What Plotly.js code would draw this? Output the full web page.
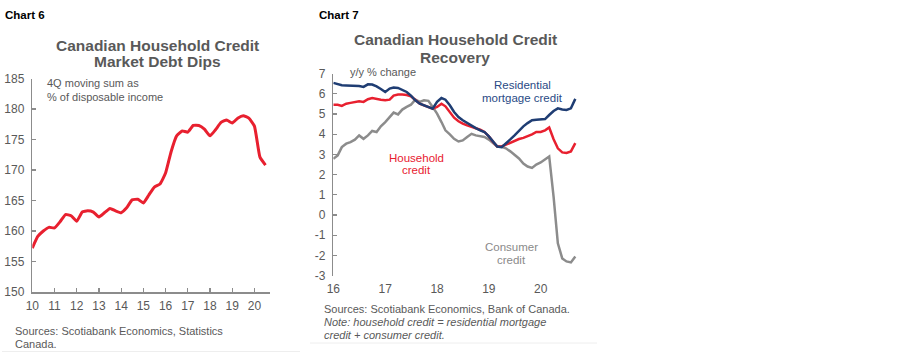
<!DOCTYPE html>
<html><head><meta charset="utf-8">
<script src="https://cdn.plot.ly/plotly-3.0.1.min.js"></script>
<style>html,body{margin:0;padding:0;background:#fff}#chart{width:900px;height:355px}</style>
</head><body><div id="chart"></div>
<script>
// ---- Chart 6: household credit market debt, 4Q moving sum as % of disposable income (quarterly, 2010Q1..2020Q3)
const c6StartYear = 2010;
const c6Values = [157.2,159.1,160.0,160.6,160.5,161.5,162.7,162.5,161.6,163.1,163.3,163.1,162.3,163.0,163.7,163.3,163.0,163.8,165.1,165.2,164.6,165.9,167.2,167.7,169.5,173.0,175.6,176.4,176.2,177.3,177.3,176.7,175.6,176.6,177.8,178.2,177.7,178.5,178.9,178.5,177.2,172.1,170.8];
const c6TickYears = [2010,2011,2012,2013,2014,2015,2016,2017,2018,2019,2020];
const c6TickLabels = ['10','11','12','13','14','15','16','17','18','19','20'];

// ---- Chart 7: y/y % change (monthly, Jan 2016..Sep 2020)
const c7StartYear = 2016;
const c7Mortgage = [6.54,6.47,6.42,6.41,6.41,6.42,6.39,6.34,6.47,6.46,6.37,6.24,
  6.09,6.26,6.31,6.29,6.18,6.09,5.91,5.68,5.51,5.43,5.35,5.26,
  5.60,5.79,5.71,5.43,5.10,4.85,4.69,4.55,4.44,4.30,4.19,4.11,
  3.89,3.61,3.39,3.36,3.53,3.74,3.94,4.16,4.39,4.55,4.69,4.72,
  4.72,4.75,4.95,5.15,5.28,5.22,5.20,5.28,5.75];
const c7Household = [5.46,5.46,5.40,5.51,5.55,5.58,5.63,5.60,5.73,5.79,5.74,5.71,
  5.68,5.71,5.91,5.96,5.96,5.94,5.88,5.71,5.51,5.43,5.35,5.26,
  5.35,5.51,5.38,5.10,4.82,4.64,4.52,4.44,4.37,4.30,4.22,4.11,
  3.89,3.61,3.39,3.39,3.49,3.58,3.69,3.76,3.82,3.89,3.99,4.11,
  4.11,4.19,4.33,3.75,3.30,3.10,3.07,3.15,3.56];
const c7Consumer = [2.78,2.95,3.36,3.53,3.61,3.73,3.94,3.77,3.94,4.16,4.11,4.39,
  4.60,4.85,5.07,4.98,5.22,5.35,5.46,5.71,5.60,5.68,5.65,5.35,
  5.02,4.60,4.19,3.99,3.77,3.64,3.69,3.86,4.02,3.94,3.89,3.86,
  3.73,3.56,3.39,3.38,3.30,3.15,3.00,2.80,2.55,2.40,2.33,2.50,
  2.60,2.75,2.90,0.90,-1.40,-2.15,-2.30,-2.35,-2.05];
const c7TickYears = [2016,2017,2018,2019,2020];
const c7TickLabels = ['16','17','18','19','20'];
const c7YTickVals = [-3,-2,-1,0,1,2,3,4,5,6,7];
const c7YTickLabels = ['-3','-2','-1','0','1','2','3','4','5','6','7'];

const pad = n => String(n).padStart(2,'0');
function quarterDates(y0, n){const a=[];for(let i=0;i<n;i++){const y=y0+Math.floor(i/4);a.push(y+'-'+pad((i%4)*3+1)+'-01');}return a;}
function monthDates(y0, n){const a=[];for(let i=0;i<n;i++){const y=y0+Math.floor(i/12);a.push(y+'-'+pad(i%12+1)+'-01');}return a;}
const yearDates = ys => ys.map(y => y+'-01-01');

const W=900,H=355;
const PX = x => x/W, PY = y => 1 - y/H;
const FONT = 'Liberation Sans, Arial, sans-serif';
const GREY_TXT = '#595959', AXIS = '#8c8c8c';
const RED='#e8202f', BLUE='#1f3d73', GREY='#8c8c8c';

const c6x = quarterDates(c6StartYear, c6Values.length);
const c7x = monthDates(c7StartYear, c7Mortgage.length);

const traces = [
  {x:c6x, y:c6Values, xaxis:'x', yaxis:'y', mode:'lines', line:{color:RED,width:3,shape:'spline',smoothing:0.4}, hoverinfo:'skip'},
  {x:c7x, y:c7Consumer, xaxis:'x2', yaxis:'y2', mode:'lines', line:{color:GREY,width:2.5}, hoverinfo:'skip'},
  {x:c7x, y:c7Household, xaxis:'x2', yaxis:'y2', mode:'lines', line:{color:RED,width:2.5}, hoverinfo:'skip'},
  {x:c7x, y:c7Mortgage, xaxis:'x2', yaxis:'y2', mode:'lines', line:{color:BLUE,width:2.5}, hoverinfo:'skip'}
];

const d6x=[PX(32.3),PX(270)], d6y=[PY(292),PY(78.5)];
const d7x=[PX(333.3),PX(581.7)], d7y=[PY(275.6),PY(73.6)];
const zeroPos = d7y[0] + 0.3*(d7y[1]-d7y[0]);

function ann(text,x,y,opts){return Object.assign({text:text,x:PX(x),y:PY(y),xref:'paper',yref:'paper',showarrow:false,xanchor:'left',yanchor:'middle',font:{family:FONT,size:11,color:GREY_TXT}},opts||{});}
const titleFont = {family:FONT,size:15.5,color:'#595959',weight:'bold'};
const annotations = [
  ann('<b>Chart 6</b>',3,15,{font:{family:FONT,size:11.5,color:'#000'}}),
  ann('<b>Chart 7</b>',316.5,15,{font:{family:FONT,size:11.5,color:'#000'}}),
  ann('<b>Canadian Household Credit</b>',157.5,45,{xanchor:'center',font:titleFont}),
  ann('<b>Market Debt Dips</b>',157.5,62,{xanchor:'center',font:titleFont}),
  ann('<b>Canadian Household Credit</b>',455,39.5,{xanchor:'center',font:titleFont}),
  ann('<b>Recovery</b>',455,57,{xanchor:'center',font:titleFont}),
  ann('4Q moving sum as',44.5,83,{}),
  ann('% of disposable income',44.5,97,{}),
  ann('Sources: Scotiabank Economics, Statistics',13,330.5,{}),
  ann('Canada.',13,344,{}),
  ann('y/y % change',348,72,{}),
  ann('Residential',522.5,85,{xanchor:'center',font:{family:FONT,size:11.5,color:'#2a4a85'}}),
  ann('mortgage credit',522.5,98,{xanchor:'center',font:{family:FONT,size:11.5,color:'#2a4a85'}}),
  ann('Household',416,158,{xanchor:'center',font:{family:FONT,size:11.5,color:RED}}),
  ann('credit',416,170,{xanchor:'center',font:{family:FONT,size:11.5,color:RED}}),
  ann('Consumer',511.5,247.5,{xanchor:'center',font:{family:FONT,size:11.5,color:'#8a8a8a'}}),
  ann('credit',511.5,260,{xanchor:'center',font:{family:FONT,size:11.5,color:'#8a8a8a'}}),
  ann('Sources: Scotiabank Economics, Bank of Canada.',322,309,{}),
  ann('<i>Note: household credit = residential mortgage</i>',322,322,{}),
  ann('<i>credit + consumer credit.</i>',322,335,{})
];

const tickFont = {family:FONT,size:12,color:GREY_TXT};
const layout = {
  width:W,height:H,margin:{l:0,r:0,t:0,b:0},paper_bgcolor:'#fff',plot_bgcolor:'rgba(0,0,0,0)',
  showlegend:false,hovermode:false,
  xaxis:{domain:d6x,anchor:'y',type:'date',range:['2010-01-01','2020-09-13'],tickvals:yearDates(c6TickYears),ticktext:c6TickLabels,
    showgrid:false,zeroline:false,showline:true,linecolor:AXIS,linewidth:1.5,ticks:'inside',ticklen:4,tickcolor:AXIS,tickwidth:1.2,tickfont:tickFont,ticklabelstandoff:2},
  yaxis:{domain:d6y,anchor:'x',range:[150,185],dtick:5,tick0:150,showgrid:false,zeroline:false,showline:true,linecolor:AXIS,linewidth:1.5,
    ticks:'inside',ticklen:4,tickcolor:AXIS,tickwidth:1.2,tickfont:tickFont,ticklabelstandoff:4},
  xaxis2:{domain:d7x,anchor:'y2',type:'date',range:['2016-01-01','2020-10-16'],tickvals:yearDates(c7TickYears),ticktext:c7TickLabels,
    showgrid:false,zeroline:false,showline:false,ticks:'',tickfont:tickFont,ticklabelstandoff:4},
  xaxis3:{domain:d7x,anchor:'free',position:zeroPos,overlaying:'x2',type:'date',range:['2016-01-01','2020-10-16'],
    tickvals:yearDates(c7TickYears.slice(1)),showticklabels:false,showgrid:false,zeroline:false,showline:true,linecolor:AXIS,linewidth:1.5,
    ticks:'inside',ticklen:4,tickcolor:AXIS,tickwidth:1.2},
  yaxis2:{domain:d7y,anchor:'x2',range:[-3,7],tickvals:c7YTickVals,ticktext:c7YTickLabels,showgrid:false,zeroline:false,showline:true,linecolor:AXIS,linewidth:1.5,
    ticks:'inside',ticklen:4,tickcolor:AXIS,tickwidth:1.2,tickfont:tickFont,ticklabelstandoff:4},
  annotations:annotations,
  shapes:[
    {type:'line',xref:'paper',yref:'paper',x0:PX(2),x1:PX(300),y0:PY(351.5),y1:PY(351.5),line:{color:'#eeeeee',width:1}},
    {type:'line',xref:'paper',yref:'paper',x0:PX(310),x1:PX(597),y0:PY(343),y1:PY(343),line:{color:'#eeeeee',width:1}}
  ]
};
Plotly.newPlot('chart',traces,layout,{staticPlot:true,displayModeBar:false});
</script></body></html>
